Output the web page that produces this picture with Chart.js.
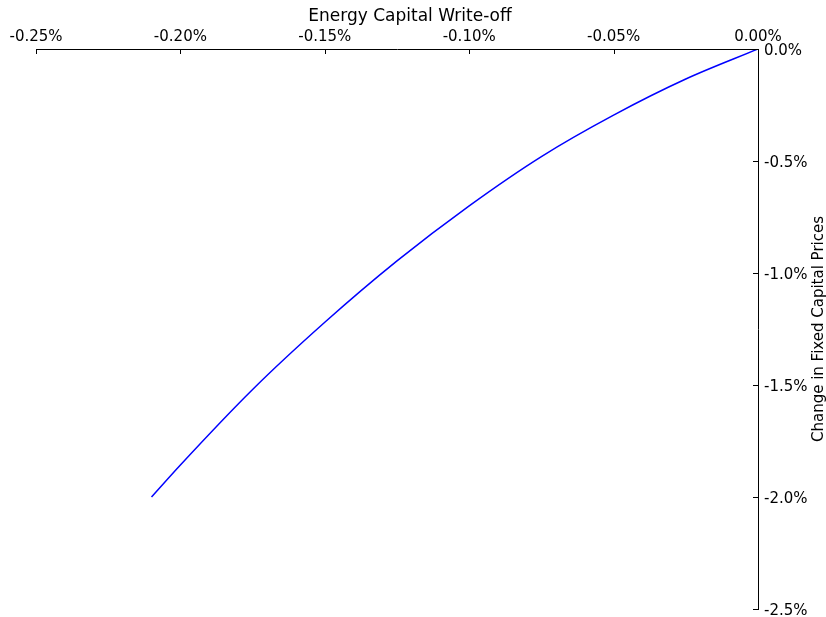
<!DOCTYPE html>
<html>
<head>
<meta charset="utf-8">
<script src="https://cdn.jsdelivr.net/npm/chart.js@4/dist/chart.umd.min.js"></script>
<style>
  html, body { margin: 0; padding: 0; background: #ffffff; }
  #wrap { width: 826px; height: 617px; }
</style>
</head>
<body>
<div id="wrap"><canvas id="c" width="826" height="617"></canvas></div>
<script>
// Data (both in percent)
const writeOff = [0, -0.025, -0.05, -0.075, -0.10, -0.125, -0.15, -0.175, -0.20, -0.21];
const priceChange = [0, -0.134, -0.295, -0.48, -0.70, -0.946, -1.22, -1.52, -1.857, -2.0];

const xTickValues = [-0.25, -0.20, -0.15, -0.10, -0.05, 0.00];
const xTickLabels = ['-0.25%', '-0.20%', '-0.15%', '-0.10%', '-0.05%', '0.00%'];
const yTickValues = [0.0, -0.5, -1.0, -1.5, -2.0, -2.5];
const yTickLabels = ['0.0%', '-0.5%', '-1.0%', '-1.5%', '-2.0%', '-2.5%'];

const xTitle = 'Energy Capital Write-off';
const yTitle = 'Change in Fixed Capital Prices';

const FONT = "'DejaVu Sans', sans-serif";

const points = writeOff.map((x, i) => ({ x: x, y: priceChange[i] }));

const decorPlugin = {
  id: 'decor',
  afterDraw(chart) {
    const ctx = chart.ctx;
    const xs = chart.scales.x;
    const ys = chart.scales.y;
    const area = chart.chartArea;
    ctx.save();
    ctx.strokeStyle = '#000000';
    ctx.lineWidth = 1;
    // inward tick marks on top axis
    xTickValues.forEach(v => {
      const px = Math.round(xs.getPixelForValue(v)) + 0.5;
      ctx.beginPath();
      ctx.moveTo(px, area.top);
      ctx.lineTo(px, area.top + 5);
      ctx.stroke();
    });
    // inward tick marks on right axis
    yTickValues.forEach(v => {
      const py = Math.round(ys.getPixelForValue(v)) + 0.5;
      ctx.beginPath();
      ctx.moveTo(area.right, py);
      ctx.lineTo(area.right - 5, py);
      ctx.stroke();
    });
    // titles
    ctx.fillStyle = '#000000';
    ctx.textAlign = 'center';
    ctx.textBaseline = 'middle';
    ctx.font = '17px ' + FONT;
    ctx.fillText(xTitle, 410, 17);
    ctx.font = '15px ' + FONT;
    ctx.translate(819, (area.top + area.bottom) / 2);
    ctx.rotate(-Math.PI / 2);
    ctx.fillText(yTitle, 0, 0);
    ctx.restore();
  }
};

new Chart(document.getElementById('c'), {
  type: 'scatter',
  data: {
    datasets: [{
      data: points,
      showLine: true,
      borderColor: '#0000ff',
      backgroundColor: '#0000ff',
      borderWidth: 1.5,
      pointRadius: 0,
      pointHoverRadius: 0,
      tension: 0.4,
      cubicInterpolationMode: 'monotone',
      fill: false
    }]
  },
  options: {
    responsive: false,
    animation: false,
    events: [],
    layout: { padding: { left: 36, top: 0, right: 0, bottom: 8 } },
    plugins: {
      legend: { display: false },
      tooltip: { enabled: false },
      title: { display: false }
    },
    scales: {
      x: {
        type: 'linear',
        position: 'top',
        min: -0.25,
        max: 0,
        afterBuildTicks(scale) { scale.ticks = xTickValues.map(v => ({ value: v })); },
        afterFit(scale) {
          scale.height = 49;
          scale.paddingLeft = 0; scale.paddingRight = 0;
        },
        grid: { display: false, drawTicks: false },
        border: { display: true, color: '#000000', width: 1 },
        ticks: {
          color: '#000000',
          font: { family: FONT, size: 15 },
          padding: 3,
          maxRotation: 0,
          autoSkip: false,
          callback: (v, i) => xTickLabels[i]
        }
      },
      y: {
        type: 'linear',
        position: 'right',
        min: -2.5,
        max: 0,
        afterBuildTicks(scale) { scale.ticks = yTickValues.slice().reverse().map(v => ({ value: v })); },
        afterFit(scale) {
          scale.width = 68;
          scale.paddingTop = 0; scale.paddingBottom = 0;
        },
        grid: { display: false, drawTicks: false },
        border: { display: true, color: '#000000', width: 1 },
        ticks: {
          color: '#000000',
          font: { family: FONT, size: 15 },
          padding: 6,
          labelOffset: 2,
          autoSkip: false,
          callback: (v) => yTickLabels[yTickValues.indexOf(v)]
        }
      }
    }
  },
  plugins: [decorPlugin]
});
</script>
</body>
</html>
